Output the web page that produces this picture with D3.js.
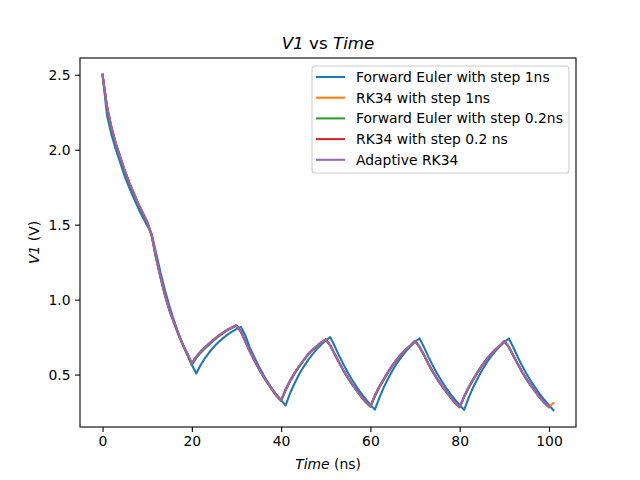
<!DOCTYPE html>
<meta charset="utf-8">
<style>
body { margin: 0; background: #fff; }
svg { font-family: "DejaVu Sans", sans-serif; }
.tick text { font-size: 13.9px; fill: #000; }
.tick line { stroke: #000; stroke-width: 1.1; }
.leg text { font-size: 13.9px; fill: #000; }
</style>
<svg width="640" height="480"></svg>
<script src="https://d3js.org/d3.v7.min.js"></script>
<script>
// one sample per ns, starting at t = 0
var feStep1 = [2.500, 2.230, 2.100, 2.000, 1.910, 1.820, 1.745, 1.675, 1.610, 1.550, 1.495, 1.440,
  1.310, 1.180, 1.060, 0.955, 0.860, 0.775, 0.700, 0.630, 0.565, 0.507,
  0.565, 0.612, 0.652, 0.687, 0.717, 0.743, 0.766, 0.786, 0.803, 0.818,
  0.760, 0.680, 0.615, 0.555, 0.500, 0.450, 0.405, 0.365, 0.328, 0.295,
  0.375, 0.440, 0.500, 0.550, 0.595, 0.635, 0.670, 0.700, 0.727, 0.750,
  0.690, 0.625, 0.565, 0.510, 0.460, 0.415, 0.372, 0.334, 0.298, 0.266,
  0.345, 0.415, 0.475, 0.530, 0.578, 0.620, 0.657, 0.690, 0.717, 0.742,
  0.683, 0.618, 0.558, 0.504, 0.455, 0.410, 0.368, 0.331, 0.296, 0.265,
  0.344, 0.414, 0.474, 0.529, 0.577, 0.619, 0.656, 0.689, 0.716, 0.741,
  0.682, 0.617, 0.557, 0.503, 0.454, 0.409, 0.367, 0.330, 0.295, 0.262];

var rkStep1 = [2.500, 2.285, 2.148, 2.038, 1.948, 1.858, 1.779, 1.709, 1.639, 1.579, 1.519,
  1.428, 1.278, 1.148, 1.029, 0.929, 0.849, 0.769, 0.699, 0.638, 0.568,
  0.616, 0.652, 0.681, 0.708, 0.733, 0.758, 0.778, 0.798, 0.813, 0.826,
  0.784, 0.719, 0.654, 0.594, 0.539, 0.489, 0.444, 0.399, 0.358, 0.326,
  0.397, 0.458, 0.508, 0.553, 0.593, 0.633, 0.663, 0.688, 0.713, 0.731,
  0.694, 0.636, 0.579, 0.525, 0.476, 0.431, 0.391, 0.351, 0.315, 0.285,
  0.356, 0.418, 0.468, 0.518, 0.563, 0.603, 0.638, 0.668, 0.693, 0.720,
  0.684, 0.629, 0.571, 0.517, 0.469, 0.425, 0.385, 0.346, 0.310, 0.282,
  0.352, 0.413, 0.465, 0.515, 0.560, 0.600, 0.635, 0.665, 0.691, 0.720,
  0.683, 0.627, 0.570, 0.516, 0.468, 0.424, 0.384, 0.345, 0.311, 0.283, 0.310];

var feStep02 = [2.500, 2.275, 2.135, 2.028, 1.938, 1.850, 1.770, 1.700, 1.632, 1.572, 1.513,
  1.425, 1.274, 1.144, 1.025, 0.925, 0.845, 0.765, 0.695, 0.634, 0.562,
  0.610, 0.646, 0.675, 0.703, 0.729, 0.755, 0.776, 0.796, 0.812, 0.827,
  0.786, 0.721, 0.655, 0.594, 0.538, 0.487, 0.441, 0.396, 0.356, 0.324,
  0.393, 0.454, 0.505, 0.551, 0.592, 0.632, 0.663, 0.688, 0.713, 0.734,
  0.695, 0.637, 0.579, 0.524, 0.474, 0.429, 0.389, 0.349, 0.313, 0.285,
  0.354, 0.415, 0.466, 0.516, 0.562, 0.602, 0.638, 0.668, 0.693, 0.724,
  0.685, 0.630, 0.571, 0.516, 0.467, 0.423, 0.383, 0.344, 0.308, 0.281,
  0.350, 0.411, 0.463, 0.513, 0.559, 0.599, 0.635, 0.665, 0.691, 0.722,
  0.684, 0.628, 0.570, 0.515, 0.466, 0.422, 0.382, 0.343, 0.308, 0.281];

var rkStep02 = [2.500, 2.290, 2.150, 2.040, 1.950, 1.860, 1.780, 1.710, 1.640, 1.580, 1.520,
  1.430, 1.280, 1.150, 1.030, 0.930, 0.850, 0.770, 0.700, 0.640, 0.575,
  0.620, 0.655, 0.683, 0.710, 0.735, 0.760, 0.780, 0.800, 0.815, 0.829,
  0.785, 0.720, 0.655, 0.595, 0.540, 0.490, 0.445, 0.400, 0.360, 0.330,
  0.400, 0.460, 0.510, 0.555, 0.595, 0.635, 0.665, 0.690, 0.715, 0.735,
  0.695, 0.637, 0.580, 0.526, 0.477, 0.432, 0.392, 0.352, 0.317, 0.290,
  0.360, 0.420, 0.470, 0.520, 0.565, 0.605, 0.640, 0.670, 0.695, 0.725,
  0.685, 0.630, 0.572, 0.518, 0.470, 0.426, 0.386, 0.347, 0.312, 0.285,
  0.355, 0.415, 0.467, 0.517, 0.562, 0.602, 0.637, 0.667, 0.693, 0.723,
  0.684, 0.628, 0.571, 0.517, 0.469, 0.425, 0.385, 0.346, 0.312, 0.285];

var adaptive = [2.500, 2.290, 2.150, 2.040, 1.950, 1.860, 1.780, 1.710, 1.640, 1.580, 1.520,
  1.430, 1.280, 1.150, 1.030, 0.930, 0.850, 0.770, 0.700, 0.640, 0.575,
  0.620, 0.655, 0.683, 0.710, 0.735, 0.760, 0.780, 0.800, 0.815, 0.829,
  0.785, 0.720, 0.655, 0.595, 0.540, 0.490, 0.445, 0.400, 0.360, 0.330,
  0.400, 0.460, 0.510, 0.555, 0.595, 0.635, 0.665, 0.690, 0.715, 0.735,
  0.695, 0.637, 0.580, 0.526, 0.477, 0.432, 0.392, 0.352, 0.317, 0.290,
  0.360, 0.420, 0.470, 0.520, 0.565, 0.605, 0.640, 0.670, 0.695, 0.725,
  0.685, 0.630, 0.572, 0.518, 0.470, 0.426, 0.386, 0.347, 0.312, 0.285,
  0.355, 0.415, 0.467, 0.517, 0.562, 0.602, 0.637, 0.667, 0.693, 0.723,
  0.684, 0.628, 0.571, 0.517, 0.469, 0.425, 0.385, 0.346, 0.312, 0.285];

var seriesNames = ["Forward Euler with step 1ns", "RK34 with step 1ns",
  "Forward Euler with step 0.2ns", "RK34 with step 0.2 ns", "Adaptive RK34"];
var seriesValues = [feStep1, rkStep1, feStep02, rkStep02, adaptive];
var colors = ["#1f77b4", "#ff7f0e", "#2ca02c", "#d62728", "#9467bd"];
var xTicks = [0, 20, 40, 60, 80, 100];
var yTicks = [0.5, 1.0, 1.5, 2.0, 2.5];

var svg = d3.select("svg"),
    axL = 80, axR = 576, axT = 58, axB = 427;

// matplotlib style 5% margins around the data
var allV = d3.merge(seriesValues);
var tMax = d3.max(seriesValues, function(s) { return s.length - 1; });
var vMin = d3.min(allV), vMax = d3.max(allV);
var x = d3.scaleLinear().domain([-0.05 * tMax, tMax * 1.05]).range([axL, axR]);
var y = d3.scaleLinear()
    .domain([vMin - 0.05 * (vMax - vMin), vMax + 0.05 * (vMax - vMin)])
    .range([axB, axT]);

var plot = svg.append("g");
plot.append("clipPath").attr("id", "clip")
  .append("rect").attr("x", axL).attr("y", axT)
  .attr("width", axR - axL).attr("height", axB - axT);

var line = d3.line()
    .x(function(d, i) { return x(i); })
    .y(function(d) { return y(d); });

plot.selectAll(".series").data(seriesValues).enter()
  .append("path")
    .attr("class", "series")
    .attr("clip-path", "url(#clip)")
    .attr("fill", "none")
    .attr("stroke", function(d, i) { return colors[i]; })
    .attr("stroke-width", 2.08)
    .attr("stroke-linejoin", "round")
    .attr("stroke-linecap", "square")
    .attr("d", line);

var xAxis = svg.append("g")
    .attr("transform", "translate(0," + axB + ")")
    .call(d3.axisBottom(x).tickValues(xTicks).tickSize(4.9).tickPadding(4.6).tickFormat(d3.format("d")));
var yAxis = svg.append("g")
    .attr("transform", "translate(" + axL + ",0)")
    .call(d3.axisLeft(y).tickValues(yTicks).tickSize(4.9).tickPadding(4.6).tickFormat(d3.format(".1f")));
xAxis.select(".domain").remove();
yAxis.select(".domain").remove();
xAxis.attr("font-family", null).attr("font-size", null);
yAxis.attr("font-family", null).attr("font-size", null);

svg.append("rect")
    .attr("x", axL).attr("y", axT)
    .attr("width", axR - axL).attr("height", axB - axT)
    .attr("fill", "none").attr("stroke", "#000").attr("stroke-width", 1.1);

// title and axis labels
var title = svg.append("text")
    .attr("x", (axL + axR) / 2).attr("y", 49)
    .attr("text-anchor", "middle").attr("font-size", 16.7);
title.append("tspan").attr("font-style", "italic").text("V1");
title.append("tspan").text(" vs ");
title.append("tspan").attr("font-style", "italic").text("Time");

var xl = svg.append("text")
    .attr("x", (axL + axR) / 2).attr("y", 469)
    .attr("text-anchor", "middle").attr("font-size", 13.9);
xl.append("tspan").attr("font-style", "italic").text("Time");
xl.append("tspan").text(" (ns)");

var yl = svg.append("text")
    .attr("transform", "translate(39," + (axT + axB) / 2 + ") rotate(-90)")
    .attr("text-anchor", "middle").attr("font-size", 13.9);
yl.append("tspan").attr("font-style", "italic").text("V1");
yl.append("tspan").text(" (V)");

// legend
var leg = svg.append("g").attr("class", "leg").attr("transform", "translate(312,66)");
leg.append("rect")
    .attr("width", 257).attr("height", 107).attr("rx", 3)
    .attr("fill", "#fff").attr("fill-opacity", 0.8)
    .attr("stroke", "#cccccc").attr("stroke-width", 1.1);
var row = leg.selectAll(".row").data(seriesNames).enter()
  .append("g").attr("class", "row")
    .attr("transform", function(d, i) { return "translate(0," + (11 + i * 20.7) + ")"; });
row.append("line")
    .attr("x1", 4).attr("x2", 33)
    .attr("stroke", function(d, i) { return colors[i]; })
    .attr("stroke-width", 2.08);
row.append("text")
    .attr("x", 44).attr("dy", "0.36em")
    .text(function(d) { return d; });
</script>
